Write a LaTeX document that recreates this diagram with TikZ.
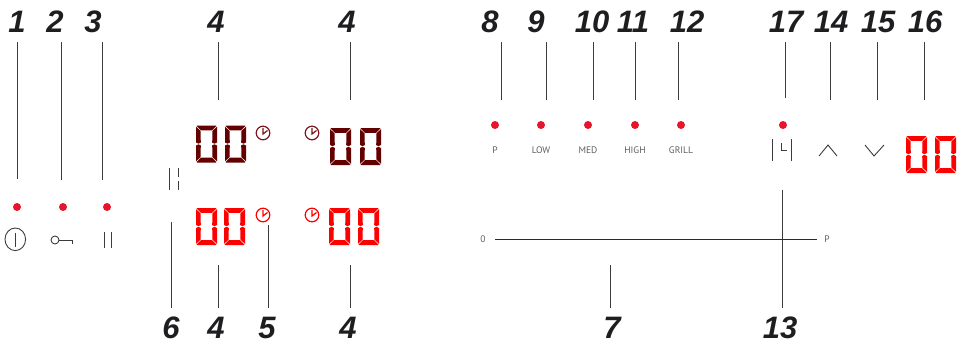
\documentclass[tikz,border=0pt]{standalone}
\usepackage{xcolor}
\usepackage{fontspec}
\setmainfont{Liberation Sans}
\newfontfamily\keyfont{PT Sans}
\usepackage{tikz}
\usetikzlibrary{positioning}
\definecolor{ledred}{RGB}{230,20,45}
\definecolor{segdark}{RGB}{100,0,0}
\definecolor{segred}{RGB}{255,0,0}
\definecolor{clockdark}{RGB}{125,20,30}
\definecolor{keygray}{RGB}{95,95,95}
\definecolor{leadgray}{RGB}{60,60,60}
\definecolor{numink}{RGB}{30,30,32}

\newcommand{\segzero}[3]{
  \begin{scope}[shift={(#1,#2)}]
    \fill[#3] (1.2,0) -- (19.8,0) -- (20.3,0.5) -- (16,4.8) -- (5,4.8) -- (0.7,0.5) -- cycle;
    \fill[#3] (1.2,37) -- (19.8,37) -- (20.3,36.5) -- (16,32.2) -- (5,32.2) -- (0.7,36.5) -- cycle;
    \fill[#3] (0,1.1) -- (4.5,5.4) -- (4.8,17) -- (2.5,18.2) -- (0,17) -- cycle;
    \fill[#3] (0,35.9) -- (4.5,31.6) -- (4.8,20) -- (2.5,18.8) -- (0,20) -- cycle;
    \fill[#3] (21,1.1) -- (16.5,5.4) -- (16.2,17) -- (18.5,18.2) -- (21,17) -- cycle;
    \fill[#3] (21,35.9) -- (16.5,31.6) -- (16.2,20) -- (18.5,18.8) -- (21,20) -- cycle;
  \end{scope}
}
\newcommand{\clockface}[3]{
  \draw[#3, line width=1.2pt] (#1,#2) circle (6.8);
  \draw[#3, line width=1.2pt] (#1,#2-5) -- (#1,#2+1) -- (#1+4.5,#2-2.5);
}

\begin{document}
\begin{tikzpicture}[
  x=1pt, y=-1pt,
  node distance=17pt and 0pt,
  numlabel/.style={inner sep=0pt, minimum height=40pt, font=\fontsize{31}{31}\selectfont\bfseries\itshape, text=numink},
  led/.style={circle, fill=ledred, inner sep=0pt, minimum size=8pt},
  keylabel/.style={inner sep=0pt, font=\keyfont\fontsize{9.5}{10}\selectfont, text=keygray},
  leader/.style={line width=1pt, leadgray},
  glyph/.style={line width=0.9pt, leadgray}
]
  \useasboundingbox (0,0) rectangle (963,345);

  \node[numlabel] (num1) at (17,22) {1};
  \node[numlabel] (num2) at (55,22) {2};
  \node[numlabel] (num3) at (93,22) {3};
  \node[numlabel] (num4a) at (216,22) {4};
  \node[numlabel] (num4b) at (347,22) {4};
  \node[numlabel] (num8) at (490,22) {8};
  \node[numlabel] (num9) at (536,22) {9};
  \node[numlabel] (num10) at (592,22) {10};
  \node[numlabel] (num11) at (633,22) {11};
  \node[numlabel] (num12) at (687,22) {12};
  \node[numlabel] (num17) at (786,22) {17};
  \node[numlabel] (num14) at (831,22) {14};
  \node[numlabel] (num15) at (878,22) {15};
  \node[numlabel] (num16) at (925,22) {16};
  \node[numlabel] (num6) at (171,328) {6};
  \node[numlabel] (num4c) at (216,328) {4};
  \node[numlabel] (num5) at (267,328) {5};
  \node[numlabel] (num4d) at (348,328) {4};
  \node[numlabel] (num7) at (612,328) {7};
  \node[numlabel] (num13) at (780,328) {13};

  \coordinate (tip1) at (17,179);
  \coordinate (tip2) at (61,180);
  \coordinate (tip3) at (102,180);
  \coordinate (tip4a) at (218,100);
  \coordinate (tip4b) at (350,100);
  \coordinate (tip8) at (501,100);
  \coordinate (tip9) at (546,100);
  \coordinate (tip10) at (593,100);
  \coordinate (tip11) at (635,100);
  \coordinate (tip12) at (678,100);
  \coordinate (tip17) at (785,98);
  \coordinate (tip14) at (830,100);
  \coordinate (tip15) at (877,100);
  \coordinate (tip16) at (924,100);
  \coordinate (tip6) at (171,222);
  \coordinate (tip4c) at (218,265);
  \coordinate (tip5) at (268,225);
  \coordinate (tip4d) at (350,265);
  \coordinate (tip7) at (610,265);
  \coordinate (tip13) at (782,190);

  \draw[leader] (num1.south -| tip1) -- (tip1);
  \draw[leader] (num2.south -| tip2) -- (tip2);
  \draw[leader] (num3.south -| tip3) -- (tip3);
  \draw[leader] (num4a.south -| tip4a) -- (tip4a);
  \draw[leader] (num4b.south -| tip4b) -- (tip4b);
  \draw[leader] (num8.south -| tip8) -- (tip8);
  \draw[leader] (num9.south -| tip9) -- (tip9);
  \draw[leader] (num10.south -| tip10) -- (tip10);
  \draw[leader] (num11.south -| tip11) -- (tip11);
  \draw[leader] (num12.south -| tip12) -- (tip12);
  \draw[leader] (num17.south -| tip17) -- (tip17);
  \draw[leader] (num14.south -| tip14) -- (tip14);
  \draw[leader] (num15.south -| tip15) -- (tip15);
  \draw[leader] (num16.south -| tip16) -- (tip16);
  \draw[leader] (num6.north -| tip6) -- (tip6);
  \draw[leader] (num4c.north -| tip4c) -- (tip4c);
  \draw[leader] (num5.north -| tip5) -- (tip5);
  \draw[leader] (num4d.north -| tip4d) -- (tip4d);
  \draw[leader] (num7.north -| tip7) -- (tip7);
  \draw[leader] (num13.north -| tip13) -- (tip13);

  \node[led] (ledpower) at (17,207) {};
  \node[led] (ledlock) at (63,207) {};
  \node[led] (ledpause) at (107,207) {};
  \node[led] (ledp) at (495,125) {};
  \node[led] (ledlow) at (541,125) {};
  \node[led] (ledmed) at (588,125) {};
  \node[led] (ledhigh) at (635,125) {};
  \node[led] (ledgrill) at (681,125) {};
  \node[led] (ledtimer) at (783,125) {};

  \node[keylabel, below=of ledp] (keyp) {P};
  \node[keylabel, below=of ledlow] (keylow) {LOW};
  \node[keylabel, below=of ledmed] (keymed) {MED};
  \node[keylabel, below=of ledhigh] (keyhigh) {HIGH};
  \node[keylabel, below=of ledgrill] (keygrill) {GRILL};

  \node[keylabel] (slidemin) at (483,239.5) {0};
  \node[keylabel] (slidemax) at (827,239.5) {P};
  \draw[line width=1pt, leadgray!70!black, shorten <=9.5pt, shorten >=7.5pt] (slidemin) -- (slidemax);

  \draw[glyph] (15.3,239.3) ellipse (10.3 and 11.3);
  \draw[glyph] (15.3,233) -- (15.3,247);
  \draw[glyph] (55,240) circle (4);
  \draw[glyph] (59,240) -- (72,240) -- (72,243.5);
  \draw[glyph] (104.5,232) -- (104.5,248);
  \draw[glyph] (111,232) -- (111,248);

  \draw[glyph] (169,168) -- (169,190);
  \draw[glyph] (178,168) -- (178,177);
  \draw[glyph] (178,181) -- (178,190);

  \draw[glyph] (772,139) -- (772,161);
  \draw[glyph] (791,139) -- (791,161);
  \draw[glyph] (781,143) -- (781,150.5) -- (787,150.5);
  \draw[glyph] (819,156) -- (828,145) -- (837,156);
  \draw[glyph] (865,145) -- (874,156) -- (884,145);

  \segzero{196}{125.5}{segdark}
  \segzero{225}{125.5}{segdark}
  \segzero{330}{128}{segdark}
  \segzero{360}{128}{segdark}
  \segzero{196}{208}{segred}
  \segzero{224}{208}{segred}
  \segzero{329}{208}{segred}
  \segzero{358}{208}{segred}
  \segzero{906}{136}{segred}
  \segzero{935}{136}{segred}

  \clockface{263}{133}{clockdark}
  \clockface{312}{133}{clockdark}
  \clockface{263}{215}{segred}
  \clockface{312}{215}{segred}
\end{tikzpicture}
\end{document}
